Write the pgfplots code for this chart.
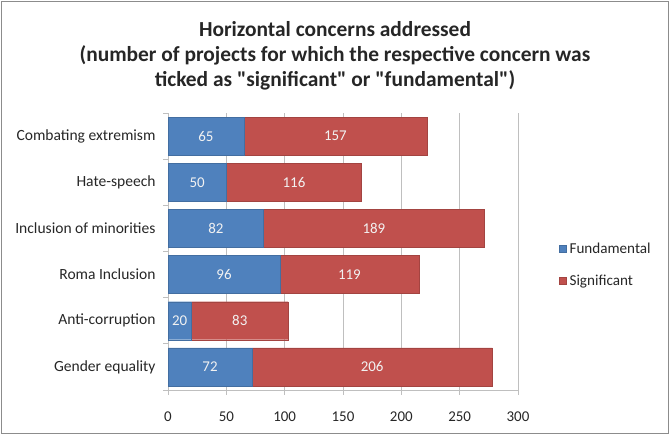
\documentclass[border=0pt]{standalone}
\usepackage{pgfplots}
\pgfplotsset{compat=1.18}
\usepackage{pgfplotstable}
\usepackage{fontspec}
\setmainfont{Carlito}
\newfontfamily\calfont{Carlito}
\definecolor{fundblue}{HTML}{4F81BD}
\definecolor{sigred}{HTML}{C0504D}
\definecolor{gridgray}{HTML}{BFBFBF}
\definecolor{framegray}{HTML}{8C8C8C}
\pgfplotstableread{
pos f s
0 72 206
1 20 83
2 96 119
3 82 189
4 50 116
5 65 157
}\datatable
\begin{document}
\begin{tikzpicture}
\useasboundingbox (0bp,0bp) rectangle (670bp,435bp);
\draw[framegray, line width=1.2bp] (1.5bp,1.5bp) rectangle (668.5bp,433.5bp);
\node[align=center, font=\calfont\fontsize{21.5}{25}\selectfont\bfseries, text=black!85] at (335bp,379bp)
  {Horizontal concerns addressed\\(number of projects for which the respective concern was\\ticked as "significant" or "fundamental")};
\begin{axis}[
  at={(168bp,45bp)}, anchor=south west,
  scale only axis, width=350bp, height=277bp,
  xbar stacked, bar width=38bp,
  xmin=0, xmax=300, ymin=-0.5, ymax=5.5,
  xtick={0,50,...,300},
  ytick={-0.5,0.5,...,5.5}, yticklabels={},
  extra y ticks={0,1,2,3,4,5},
  extra y tick labels={Gender equality,Anti-corruption,Roma Inclusion,Inclusion of minorities,Hate-speech,Combating extremism},
  extra y tick style={major tick length=0pt, ymajorgrids=false},
  yticklabel shift=9bp,
  xmajorgrids, ymajorgrids=false,
  grid style={gridgray, line width=0.8bp},
  axis x line*=bottom, axis y line*=left,
  axis line style={gridgray, line width=0.8bp},
  tick style={gridgray, line width=0.8bp},
  major tick length=5bp, tick align=outside,
  /pgf/number format/assume math mode=true,
  ticklabel style={font=\fontsize{15.6}{18}\selectfont, text=black!85},
  xticklabel style={yshift=-13bp, font=\fontsize{15}{18}\selectfont},
  legend style={at={(1.117,0.451)}, anchor=west, draw=none, fill=none,
    inner sep=0pt, row sep=14bp, font=\fontsize{15.2}{18}\selectfont, text=black!85,
    nodes={inner sep=3bp}},
  legend cell align=left,
  legend image code/.code={\fill[#1] (0bp,-3.5bp) rectangle (7bp,3.5bp);},
]
\addplot[fill=fundblue, draw=fundblue!85!black, line width=0.4bp]
  table[x=f, y=pos]{\datatable};
\addlegendentry{Fundamental}
\addplot[fill=sigred, draw=sigred!85!black, line width=0.4bp]
  table[x=s, y=pos]{\datatable};
\addlegendentry{Significant}
\end{axis}
\begin{axis}[
  at={(168bp,45bp)}, anchor=south west,
  scale only axis, width=350bp, height=277bp,
  xmin=0, xmax=300, ymin=-0.5, ymax=5.5,
  hide axis,
  point meta=explicit symbolic,
  nodes near coords,
  nodes near coords style={font=\fontsize{15}{18}\selectfont, text=white!95!black, anchor=center, inner sep=0pt},
]
\addplot[only marks, mark=none, draw=none]
  table[x expr=\thisrow{f}/2, y=pos, meta=f]{\datatable};
\addplot[only marks, mark=none, draw=none]
  table[x expr=\thisrow{f}+\thisrow{s}/2, y=pos, meta=s]{\datatable};
\end{axis}
\end{tikzpicture}
\end{document}
